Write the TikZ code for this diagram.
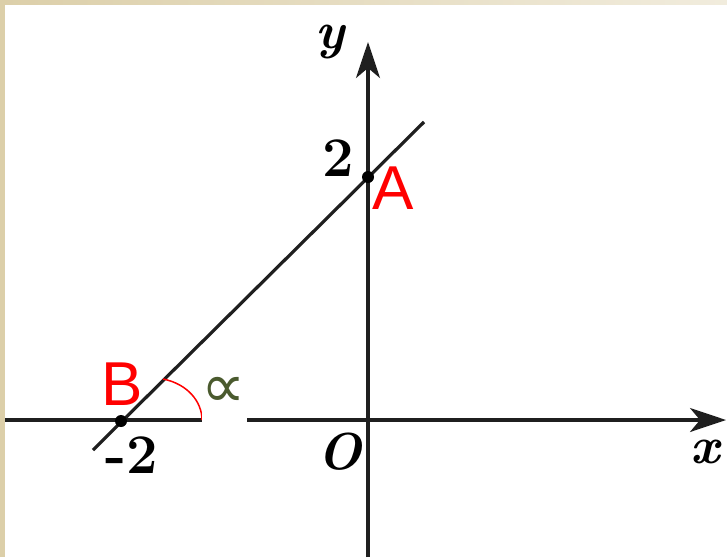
\documentclass[tikz,border=0pt]{standalone}
\usepackage{fontspec}
\newfontfamily\sansf{Liberation Sans}
\newfontfamily\symf{DejaVu Sans}
\usetikzlibrary{arrows.meta}
\definecolor{beigeL}{HTML}{DCCFA9}
\definecolor{beigeR}{HTML}{F1ECDD}
\definecolor{alphagreen}{HTML}{4A5A2E}
\begin{document}
\begin{tikzpicture}[x=1pt,y=-1pt,
  axis/.style={line width=3.2pt, draw=black!88},
  tip/.style={-{Stealth[length=36pt,width=24pt,inset=10pt]}},
  dot/.style={circle, fill=black, minimum size=12pt, inner sep=0pt},
  lbl/.style={inner sep=0pt, font=\bfseries\itshape\fontsize{52}{60}\selectfont},
  num/.style={inner sep=0pt, font=\bfseries\fontsize{56}{60}\selectfont},
  red lbl/.style={inner sep=0pt, text=red, font=\sansf\fontsize{62}{70}\selectfont}]
\useasboundingbox (0,0) rectangle (727,557);
\shade[left color=beigeL,right color=beigeR] (0,0) rectangle (727,4.5);
\fill[beigeL] (0,0) rectangle (5,557);
\fill[white] (5,4.5) rectangle (727,557);
% axes
\coordinate (O) at (368,420);
\coordinate (xs) at (5,420);
\coordinate (xe) at (726,420);
\coordinate (ys) at (368,557);
\coordinate (ye) at (368,42);
\draw[axis,tip] (xs) -- (xe);
\draw[axis,tip] (ys) -- (ye);
% line
\coordinate (L1) at (93,450);
\coordinate (L2) at (424,122);
\draw[axis] (L1) -- (L2);
\node[dot] (A) at (368,177) {};
\node[dot] (B) at (121,421) {};
% angle
\draw[red, line width=1.5pt] (163,379) .. controls (188,384) and (202,402) .. (202,420);
\fill[white] (202,366) rectangle (247,433);
\node[inner sep=0pt, text=alphagreen, font=\symf\fontsize{62}{70}\selectfont] (alpha) at (224,392) {∝};
% labels
\node[lbl] (ylab) at (330,42) {y};
\node[num] (two) at (338,158) {2};
\node[red lbl] (Alab) at (393,188) {A};
\node[red lbl] (Blab) at (122,384) {B};
\node[num] (mtwo) at (132,455) {-2};
\node[lbl] (Olab) at (340,452) {O};
\node[lbl] (xlab) at (705,452) {x};
\end{tikzpicture}
\end{document}
